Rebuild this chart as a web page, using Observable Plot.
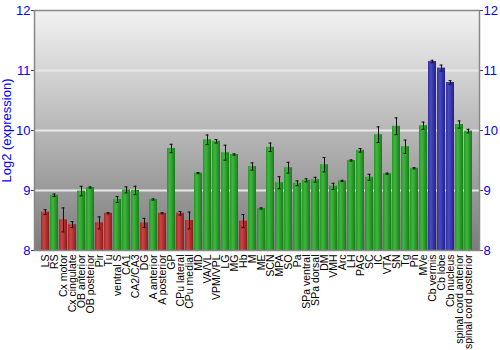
<!DOCTYPE html>
<html><head>
<meta charset="utf-8">
<script src="https://cdn.jsdelivr.net/npm/d3@7"></script>
<script src="https://cdn.jsdelivr.net/npm/@observablehq/plot@0.6"></script>
<style>body{margin:0;background:#fff}</style>
</head><body><div id="chart"></div>
<script>
const regions = ["LS","RS","Cx motor","Cx cingulate","OB anterior","OB posterior","Pir","Tu","ventral S","CA1","CA2/CA3","DG","A anterior","A posterior","GP","CPu lateral","CPu medial","MD","VA/VL","VPM/VPL","LG","MG","Hb","M","ME","SCN","MPA","SO","Pa","SPa ventral","SPa dorsal","DM","VMH","Arc","LH","PAG","SC","IC","VTA","SN","Tg","Pn","MVe","Cb vermis","Cb lobe","Cb nucleus","spinal cord anterior","spinal cord posterior"];
const values = [8.64,8.92,8.51,8.43,8.99,9.05,8.46,8.62,8.85,9.01,9.0,8.46,8.85,8.62,9.70,8.62,8.5,9.29,9.845,9.82,9.63,9.6,8.49,9.4,8.70,9.72,9.13,9.38,9.12,9.17,9.18,9.43,9.07,9.16,9.5,9.67,9.22,9.93,9.28,10.07,9.73,9.37,10.08,11.15,11.04,10.8,10.1,9.99];
const errors = [0.04,0.02,0.2,0.05,0.08,0.01,0.1,0.01,0.05,0.05,0.07,0.075,0.01,0.01,0.07,0.03,0.14,0.01,0.08,0.03,0.125,0.01,0.11,0.06,0.01,0.07,0.1,0.09,0.04,0.025,0.04,0.12,0.05,0.01,0.01,0.03,0.05,0.13,0.01,0.14,0.11,0.01,0.06,0.02,0.05,0.03,0.06,0.03];
const groups = ["low","mid","low","low","mid","mid","low","low","mid","mid","mid","low","mid","low","mid","low","low","mid","mid","mid","mid","mid","low","mid","mid","mid","mid","mid","mid","mid","mid","mid","mid","mid","mid","mid","mid","mid","mid","mid","mid","mid","mid","high","high","high","mid","mid"];
const yTicks = [8,9,10,11,12];

const data = regions.map((r,i)=>({region:r, value:values[i], err:errors[i], group:groups[i]}));

const chart = Plot.plot({
  width:500, height:350,
  marginLeft:34, marginRight:21, marginTop:10, marginBottom:100,
  style:{fontFamily:"'Liberation Sans', Arial, sans-serif", background:"white"},
  x:{domain:regions, padding:0.1, label:null},
  y:{domain:[8,12], label:null},
  color:{type:"ordinal", domain:["low","mid","high"], range:["url(#gRed)","url(#gGreen)","url(#gBlue)"]},
  marks:[
    Plot.frame({fill:"url(#gBg)", stroke:"none"}),
    Plot.gridY(yTicks.slice(1,-1), {stroke:"#e8e8e8", strokeOpacity:1, strokeWidth:2}),
    Plot.barY(data, {x:"region", y1:8, y2:"value", fill:"group"}),
    Plot.ruleX(data, {x:"region", y1:d=>d.value-d.err, y2:d=>d.value+d.err, stroke:"#111", strokeWidth:1}),
    Plot.tickY(data, {x:"region", y:d=>d.value-d.err, stroke:"#111", insetLeft:2.5, insetRight:2.5}),
    Plot.tickY(data, {x:"region", y:d=>d.value+d.err, stroke:"#111", insetLeft:2.5, insetRight:2.5}),
    Plot.axisX({tickRotate:-90, fontSize:10.5, tickSize:0, tickPadding:4, label:null, fill:"black"}),
    Plot.axisY({anchor:"left", ticks:yTicks, tickFormat:d=>String(d), fill:"blue", stroke:"#444", fontSize:13, tickSize:3, tickPadding:1, label:"Log2 (expression)", labelAnchor:"center", labelArrow:"none", labelOffset:33}),
    Plot.axisY({anchor:"right", ticks:yTicks, tickFormat:d=>String(d), fill:"blue", stroke:"#444", fontSize:13, tickSize:3, tickPadding:1, label:null}),
    Plot.frame({stroke:"#888", strokeWidth:1.5})
  ]
});

const svg = d3.select(chart);
const defs = svg.insert("defs", ":first-child");
const bg = defs.append("linearGradient").attr("id","gBg").attr("x1",0).attr("y1",0).attr("x2",0).attr("y2",1);
bg.append("stop").attr("offset","0%").attr("stop-color","#f2f2f2");
bg.append("stop").attr("offset","100%").attr("stop-color","#7c7c7c");
function barGrad(id, edgeL, mid, edgeR){
  const g = defs.append("linearGradient").attr("id",id).attr("x1",0).attr("y1",0).attr("x2",1).attr("y2",0);
  g.append("stop").attr("offset","0%").attr("stop-color",edgeL);
  g.append("stop").attr("offset","35%").attr("stop-color",mid);
  g.append("stop").attr("offset","100%").attr("stop-color",edgeR);
}
barGrad("gRed","#a82a2a","#cc4444","#8a1e1e");
barGrad("gGreen","#2a962a","#3db83d","#1c7a1c");
barGrad("gBlue","#3030a0","#4a4ac4","#20208a");
document.getElementById("chart").appendChild(chart);
</script>
</body></html>
